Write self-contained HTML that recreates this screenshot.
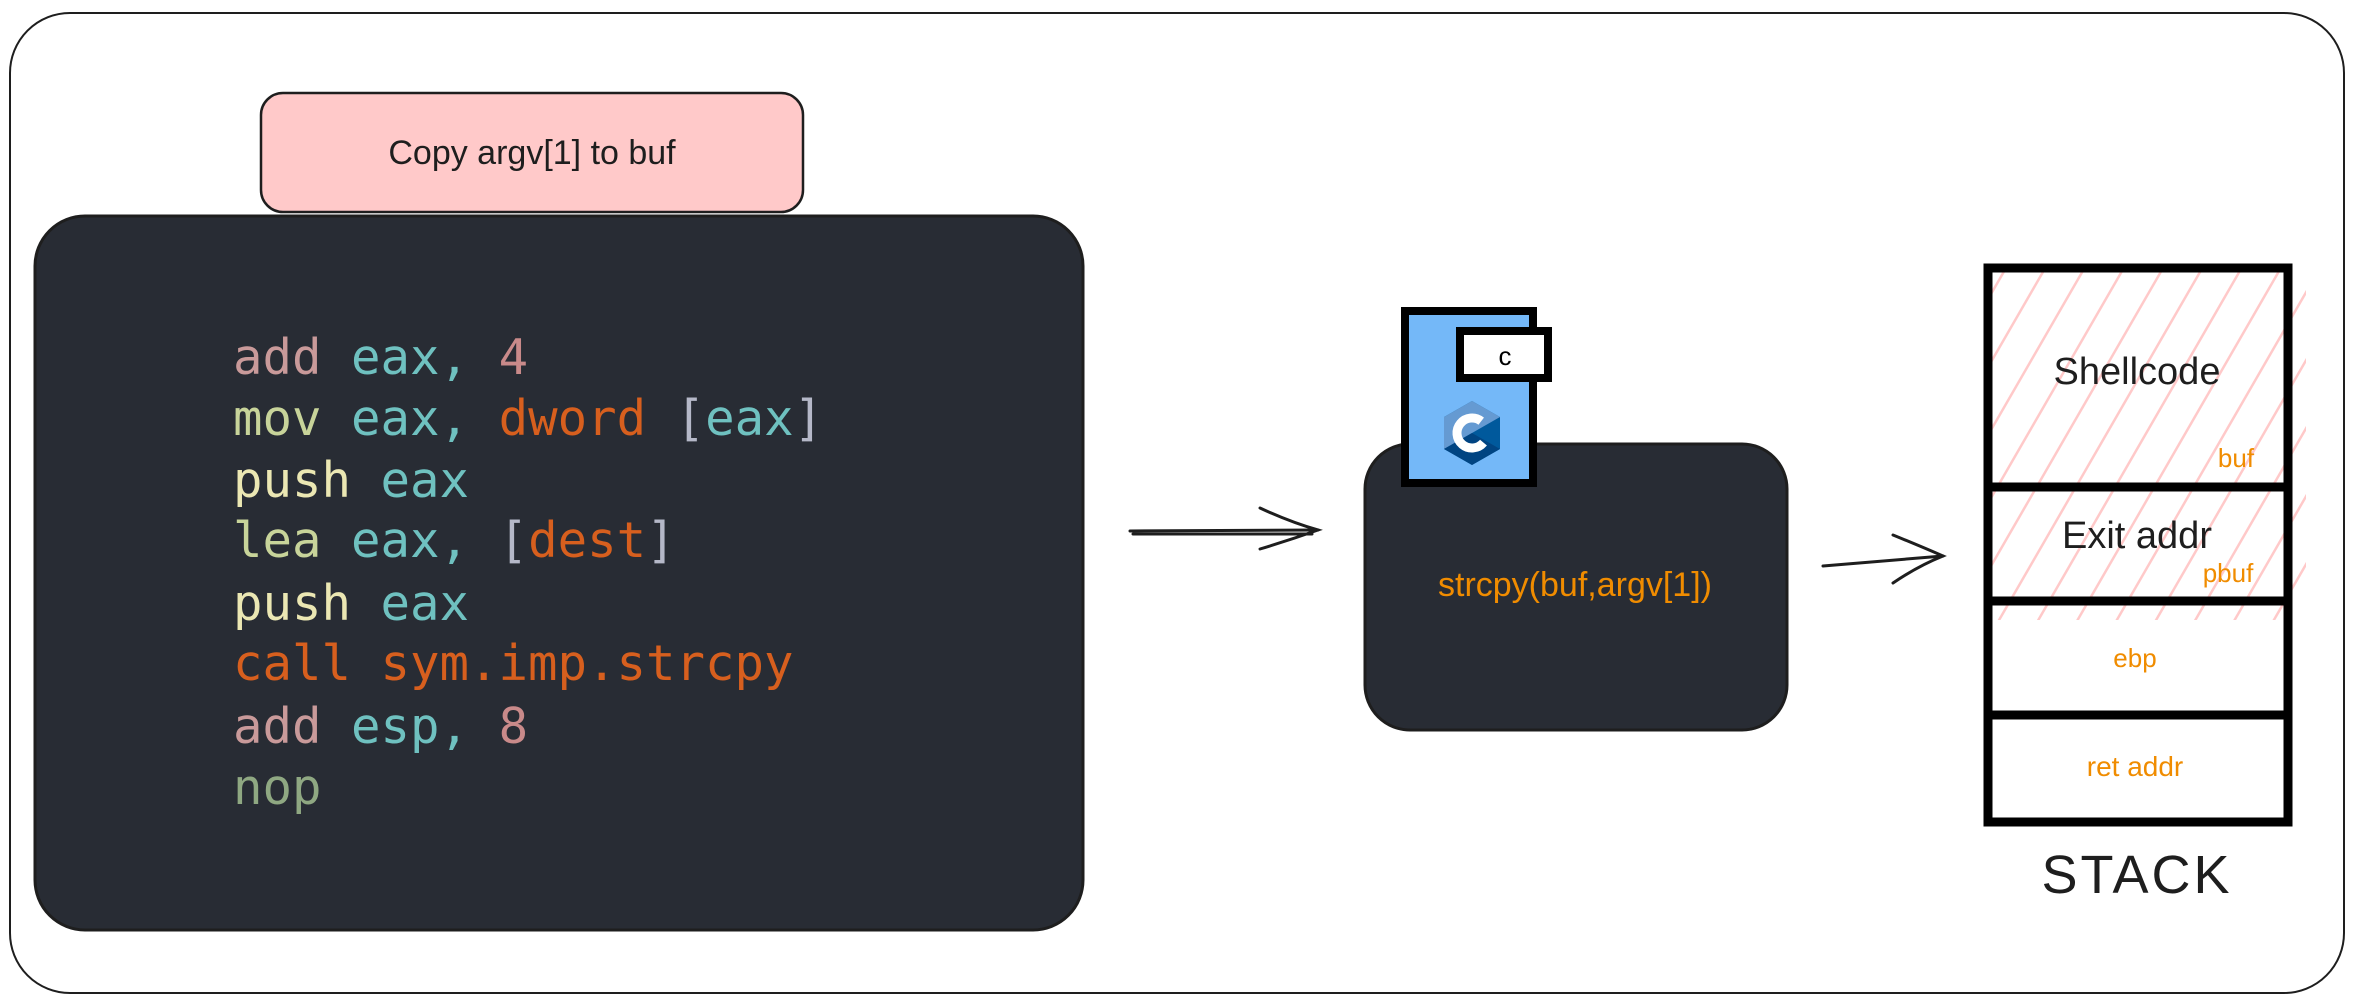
<!DOCTYPE html>
<html><head><meta charset="utf-8"><style>
html,body{margin:0;padding:0;background:#fff;}
svg{display:block;}
.code{font-family:"DejaVu Sans Mono","Liberation Mono",monospace;font-size:49px;}
.hand{font-family:"Liberation Sans",sans-serif;}
</style></head><body>
<svg width="2353" height="999" viewBox="0 0 2353 999" xmlns="http://www.w3.org/2000/svg">
<defs>
<pattern id="hatch" patternUnits="userSpaceOnUse" width="34" height="34" patternTransform="rotate(30)">
<line x1="0" y1="0" x2="0" y2="34" stroke="#ffc9c9" stroke-width="5"/>
</pattern>
</defs>
<rect x="10" y="13" width="2334" height="980" rx="60" fill="#fff" stroke="#1e1e1e" stroke-width="2"/>
<!-- pink label -->
<rect x="261" y="93" width="542" height="119" rx="22" fill="#ffc9c9" stroke="#1e1e1e" stroke-width="2.5"/>
<text x="532" y="164" class="hand" font-size="34" text-anchor="middle" fill="#1e1e1e">Copy argv[1] to buf</text>
<!-- code box -->
<rect x="35" y="216" width="1048" height="714" rx="50" fill="#282c34" stroke="#1e1e1e" stroke-width="3"/>
<g class="code">
<text x="233" y="374"><tspan fill="#c99a9a">add</tspan> <tspan fill="#6fc1c0">eax,</tspan> <tspan fill="#c98a8a">4</tspan></text>
<text x="233" y="435"><tspan fill="#c8d49a">mov</tspan> <tspan fill="#6fc1c0">eax,</tspan> <tspan fill="#d75f1e">dword</tspan> <tspan fill="#b5b8c8">[</tspan><tspan fill="#6fc1c0">eax</tspan><tspan fill="#b5b8c8">]</tspan></text>
<text x="233" y="497"><tspan fill="#ebe7b3">push</tspan> <tspan fill="#6fc1c0">eax</tspan></text>
<text x="233" y="557"><tspan fill="#c8d49a">lea</tspan> <tspan fill="#6fc1c0">eax,</tspan> <tspan fill="#b5b8c8">[</tspan><tspan fill="#d75f1e">dest</tspan><tspan fill="#b5b8c8">]</tspan></text>
<text x="233" y="620"><tspan fill="#ebe7b3">push</tspan> <tspan fill="#6fc1c0">eax</tspan></text>
<text x="233" y="680"><tspan fill="#d75f1e">call sym.imp.strcpy</tspan></text>
<text x="233" y="743"><tspan fill="#c99a9a">add</tspan> <tspan fill="#6fc1c0">esp,</tspan> <tspan fill="#c98a8a">8</tspan></text>
<text x="233" y="804"><tspan fill="#8fa882">nop</tspan></text>
</g>
<!-- arrow 1 -->
<g stroke="#1e1e1e" stroke-width="3" fill="none" stroke-linecap="round">
<line x1="1130" y1="531" x2="1318" y2="530"/>
<line x1="1133" y1="534" x2="1312" y2="534"/>
<path d="M1260 508 Q1290 522 1318 530 Q1290 540 1260 549"/>
</g>
<!-- box 2 -->
<rect x="1365" y="444" width="422" height="286" rx="45" fill="#282c34" stroke="#1e1e1e" stroke-width="3"/>
<text x="1575" y="596" class="hand" font-size="34" text-anchor="middle" fill="#f08c00">strcpy(buf,argv[1])</text>
<!-- C file icon -->
<rect x="1405" y="311" width="128" height="172" fill="#74b8f8" stroke="#000" stroke-width="8"/>
<rect x="1460" y="331" width="88" height="47" fill="#fff" stroke="#000" stroke-width="8"/>
<text x="1505" y="365" class="hand" font-size="26" text-anchor="middle" fill="#000">c</text>
<g transform="translate(1472,433)">
<polygon points="0,-32 28,-16 28,16 0,32 -28,16 -28,-16" fill="#00599c"/>
<polygon points="0,-32 28,-16 0,0 -28,16 -28,-16" fill="#659ad2"/>
<polygon points="-28,16 0,0 28,16 0,32" fill="#004482"/>
<circle cx="0" cy="0" r="15" fill="none" stroke="#fff" stroke-width="9" stroke-dasharray="70 30" transform="rotate(40)"/>
</g>
<!-- arrow 2 -->
<g stroke="#1e1e1e" stroke-width="3" fill="none" stroke-linecap="round">
<line x1="1823" y1="566" x2="1943" y2="556"/>
<path d="M1893 535 Q1920 546 1943 556 Q1918 566 1893 583"/>
</g>
<!-- stack -->
<rect x="1988" y="268" width="300" height="352" fill="url(#hatch)"/>
<rect x="2288" y="280" width="18" height="328" fill="url(#hatch)"/>
<rect x="1988" y="608" width="300" height="10" fill="#fff" opacity="0"/>
<g stroke="#000" stroke-width="9" fill="none">
<rect x="1988" y="268" width="300" height="554"/>
<line x1="1984" y1="487" x2="2292" y2="487"/>
<line x1="1984" y1="601" x2="2292" y2="601"/>
<line x1="1984" y1="715" x2="2292" y2="715"/>
</g>
<rect x="1993" y="606" width="290" height="105" fill="#fff" opacity="0.0"/>
<text x="2137" y="384" class="hand" font-size="38" text-anchor="middle" fill="#1e1e1e">Shellcode</text>
<text x="2236" y="467" class="hand" font-size="26" text-anchor="middle" fill="#f08c00">buf</text>
<text x="2137" y="548" class="hand" font-size="38" text-anchor="middle" fill="#1e1e1e">Exit addr</text>
<text x="2228" y="582" class="hand" font-size="26" text-anchor="middle" fill="#f08c00">pbuf</text>
<text x="2135" y="667" class="hand" font-size="26" text-anchor="middle" fill="#f08c00">ebp</text>
<text x="2135" y="776" class="hand" font-size="28" text-anchor="middle" fill="#f08c00">ret addr</text>
<text x="2137" y="893" class="hand" font-size="54" text-anchor="middle" fill="#1e1e1e" letter-spacing="3">STACK</text>
</svg>
</body></html>
